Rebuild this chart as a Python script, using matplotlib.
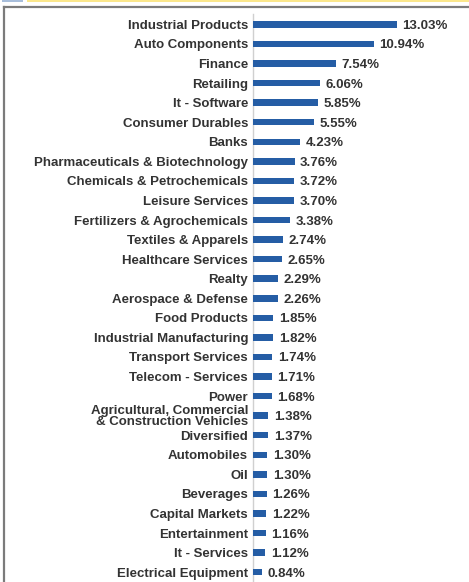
import matplotlib
matplotlib.use("Agg")
import matplotlib.pyplot as plt
from matplotlib.patches import Rectangle
from matplotlib.lines import Line2D

# ------------------------------------------------------------
# sector allocation (% of net assets)
# ------------------------------------------------------------
SECTORS = [
    "Industrial Products",
    "Auto Components",
    "Finance",
    "Retailing",
    "It - Software",
    "Consumer Durables",
    "Banks",
    "Pharmaceuticals & Biotechnology",
    "Chemicals & Petrochemicals",
    "Leisure Services",
    "Fertilizers & Agrochemicals",
    "Textiles & Apparels",
    "Healthcare Services",
    "Realty",
    "Aerospace & Defense",
    "Food Products",
    "Industrial Manufacturing",
    "Transport Services",
    "Telecom - Services",
    "Power",
    "Agricultural, Commercial\n& Construction Vehicles",
    "Diversified",
    "Automobiles",
    "Oil",
    "Beverages",
    "Capital Markets",
    "Entertainment",
    "It - Services",
    "Electrical Equipment",
]

WEIGHTS = [
    13.03, 10.94, 7.54, 6.06, 5.85, 5.55, 4.23, 3.76, 3.72, 3.70,
    3.38, 2.74, 2.65, 2.29, 2.26, 1.85, 1.82, 1.74, 1.71, 1.68,
    1.38, 1.37, 1.30, 1.30, 1.26, 1.22, 1.16, 1.12, 0.84,
]

BAR_COLOR = "#255da5"
TEXT_COLOR = "#333333"
FONT = "Liberation Sans"

W, H = 469, 582


def main() -> None:
    fig = plt.figure(figsize=(W / 100, H / 100), dpi=100)
    fig.patch.set_facecolor("white")

    # plot area: axis line at x=253px, rows from y=24px down
    ax = fig.add_axes([253 / W, 0, 1 - 253 / W, (H - 14) / H])
    ypos = list(range(len(SECTORS)))
    ax.barh(ypos, WEIGHTS, height=0.33, color=BAR_COLOR, zorder=3)

    ax.set_xlim(0, 216 / 11.05)
    ax.set_ylim(28.5, -0.53)

    for y, v in zip(ypos, WEIGHTS):
        ax.annotate(
            f"{v:.2f}%",
            xy=(v, y),
            xytext=(4, 0),
            textcoords="offset points",
            va="center_baseline",
            ha="left",
            fontsize=9.5,
            fontweight="bold",
            family=FONT,
            color=TEXT_COLOR,
        )

    ax.set_yticks(ypos)
    ax.set_yticklabels(SECTORS, fontsize=9.5, fontweight="bold",
                       family=FONT, color=TEXT_COLOR, linespacing=0.85)
    ax.tick_params(axis="y", length=0, pad=3.6)
    ax.set_xticks([])

    for side in ("top", "right", "bottom"):
        ax.spines[side].set_visible(False)
    ax.spines["left"].set_color("#d0d0d0")
    ax.spines["left"].set_linewidth(1.0)
    ax.patch.set_alpha(0)

    # panel frame and the header strip above it
    frame = "#7b7b7b"
    fig.add_artist(Line2D([3.5 / W, 1], [1 - 6.5 / H, 1 - 6.5 / H],
                          transform=fig.transFigure, color=frame, lw=1.6))
    fig.add_artist(Line2D([3.5 / W, 3.5 / W], [0, 1 - 6.5 / H],
                          transform=fig.transFigure, color=frame, lw=1.6))
    fig.add_artist(Rectangle((2 / W, 1 - 2 / H), 21 / W, 2 / H,
                             transform=fig.transFigure, color="#a8bedb", lw=0))
    fig.add_artist(Rectangle((27 / W, 1 - 2 / H), 1, 2 / H,
                             transform=fig.transFigure, color="#fbe78c", lw=0))

    fig.savefig("out.png", dpi=100)


if __name__ == "__main__":
    main()
